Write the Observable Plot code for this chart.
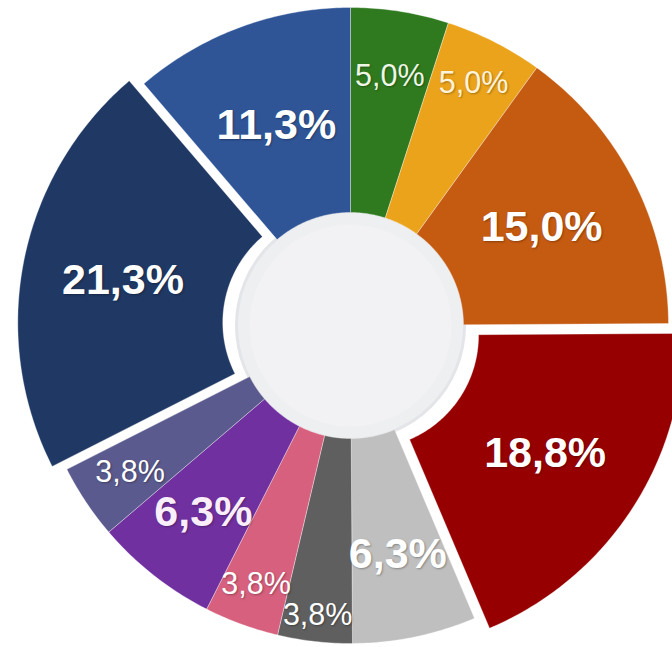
<!DOCTYPE html>
<html>
<head>
<meta charset="utf-8">
<script src="https://cdn.jsdelivr.net/npm/d3@7"></script>
<script src="https://cdn.jsdelivr.net/npm/@observablehq/plot@0.6"></script>
<style>
  html, body { margin: 0; padding: 0; background: #ffffff; }
  #chart svg text { text-shadow: 1px 1px 2px rgba(0,0,0,0.3); }
</style>
</head>
<body>
<div id="chart"></div>
<script>
// ---- data (clockwise from 12 o'clock) ----
const sliceKeys = ["s1","s2","s3","s4","s5","s6","s7","s8","s9","s10","s11"];
const values    = [5.0, 5.0, 15.0, 18.8, 6.3, 3.8, 3.8, 6.3, 3.8, 21.3, 11.3];
const labels    = ["5,0%","5,0%","15,0%","18,8%","6,3%","3,8%","3,8%","6,3%","3,8%","21,3%","11,3%"];
const colors    = ["#2f7a1f","#eba31b","#c55a11","#960000","#bfbfbf","#5f5f5f","#d6607e","#7030a0","#5a5a8e","#1f3864","#2f5597"];
const labelColors = ["#eef6e6","#fff3d9","#ffffff","#ffffff","#ffffff","#ffffff","#ffffff","#fbeefb","#ffffff","#ffffff","#ffffff"];

// ---- layout (px units, centre of the ring at 0,0) ----
const W = 672, H = 647, CX = 350, CY = 325;
const R = 318, r0 = 113;
const explode = {3: 18, 9: 15};               // offset of pulled-out slices
const labelR = [252, 272, 215, 215, 234, 292, 275, 238, 265, 217, 214];

const total = d3.sum(values);
const toRad = v => v / total * 2 * Math.PI;
let acc = 0;
const slices = values.map((v, i) => {
  const a0 = toRad(acc); acc += v; const a1 = toRad(acc);
  const mid = (a0 + a1) / 2;
  const d = explode[i] || 0;
  return {i, key: sliceKeys[i], a0, a1, mid, ox: d * Math.sin(mid), oy: d * Math.cos(mid)};
});

// polygon vertices of each ring segment
const poly = [];
for (const s of slices) {
  const n = Math.max(8, Math.ceil((s.a1 - s.a0) * 90));
  for (let k = 0; k <= n; k++) {
    const a = s.a0 + (s.a1 - s.a0) * k / n;
    poly.push({key: s.key, x: s.ox + R * Math.sin(a), y: s.oy + R * Math.cos(a)});
  }
  for (let k = n; k >= 0; k--) {
    const a = s.a0 + (s.a1 - s.a0) * k / n;
    poly.push({key: s.key, x: s.ox + r0 * Math.sin(a), y: s.oy + r0 * Math.cos(a)});
  }
  poly.push({key: s.key, x: s.ox + R * Math.sin(s.a0), y: s.oy + R * Math.cos(s.a0)});
}

const textRows = slices.map(s => ({
  key: s.key, label: labels[s.i], value: values[s.i], tc: labelColors[s.i],
  x: s.ox + labelR[s.i] * Math.sin(s.mid),
  y: s.oy + labelR[s.i] * Math.cos(s.mid)
}));

const chart = Plot.plot({
  width: W, height: H,
  margin: 0,
  x: {domain: [-CX, W - CX], axis: null},
  y: {domain: [-(H - CY), CY], axis: null},
  color: {domain: sliceKeys, range: colors},
  style: {background: "#ffffff", fontFamily: "Arial, 'Liberation Sans', sans-serif"},
  marks: [
    Plot.dot([{x: 0, y: 0}], {x: "x", y: "y", r: r0 + 1, fill: "#eeeff1", stroke: "#e4e5e8", strokeWidth: 3}),
    Plot.dot([{x: 0, y: 0}], {x: "x", y: "y", r: r0 - 12, fill: "#f2f2f4"}),
    Plot.line(poly, {x: "x", y: "y", z: "key", fill: "key", stroke: "#ffffff", strokeOpacity: 0.5, strokeWidth: 0.7, curve: "linear"}),
    Plot.text(textRows.filter(d => d.value >= 6), {x: "x", y: "y", text: "label", fill: d => d.tc, fontSize: 43, fontWeight: "bold"}),
    Plot.text(textRows.filter(d => d.value < 6), {x: "x", y: "y", text: "label", fill: d => d.tc, fontSize: 30.5})
  ]
});
document.getElementById("chart").appendChild(chart);
</script>
</body>
</html>
